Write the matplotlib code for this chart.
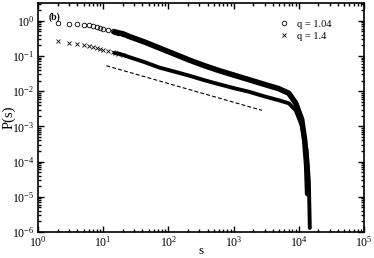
import matplotlib
matplotlib.use("Agg")
import matplotlib.pyplot as plt
from matplotlib.ticker import LogLocator, NullFormatter
import numpy as np

plt.rcParams['font.family'] = ['Liberation Serif', 'DejaVu Serif']

# DATA _______________________________________________________________________
s_q104 = [2, 3, 4, 5, 6, 7, 8, 9, 10, 12, 14, 15, 17, 20,
          25, 43, 73, 124, 209, 355, 601, 1018, 1725, 2923, 4950,
          7040, 9000, 11100, 12360, 13250, 13700]
p_q104 = [0.89, 0.82, 0.81, 0.78, 0.74, 0.70, 0.66, 0.62, 0.59, 0.54, 0.50, 0.485, 0.46, 0.43,
          0.361, 0.251, 0.169, 0.114, 0.0769, 0.0535, 0.0385, 0.0286, 0.0213, 0.0158, 0.0118,
          0.00877, 0.00454, 0.00158, 3.98e-4, 7.7e-5, 1.22e-5]

s_q14 = [2, 3, 4, 5, 6, 7, 8, 9, 10, 12, 14, 15, 17, 20,
         25, 43, 73, 124, 209, 355, 601, 1018, 1725, 2923, 4950,
         7040, 9000, 11100, 13250, 14300, 14800]
p_q14 = [0.27, 0.23, 0.22, 0.21, 0.195, 0.18, 0.17, 0.16, 0.152, 0.14, 0.13, 0.122, 0.118, 0.108,
         0.0936, 0.0674, 0.0469, 0.0361, 0.0277, 0.0206, 0.0158, 0.0122, 0.00968, 0.0072, 0.00553,
         0.00454, 0.00286, 0.00107, 2.06e-4, 2.86e-5, 1.3e-6]

guide_s = [11.2, 2723]
guide_p = [0.053, 0.00286]

labels = ["q = 1.04", "q = 1.4"]
# ____________________________________________________________________________

fig = plt.figure(figsize=(3.74, 2.58), dpi=100)
ax = fig.add_axes([0.1016, 0.101, 0.8714, 0.887])

s1, p1 = np.array(s_q104), np.array(p_q104)
s2, p2 = np.array(s_q14), np.array(p_q14)
cut = 15

# sparse markers at small s, dense band drawn as a thick line
ax.plot(s1[s1 <= 20], p1[s1 <= 20], 'o', mfc='none', mec='black', ms=3.3, mew=0.6,
        label=labels[0])
ax.plot(s1[s1 >= cut], p1[s1 >= cut], '-', color='black', lw=4.0, solid_capstyle='round')
ax.plot(s2[s2 <= 20], p2[s2 <= 20], 'x', color='black', ms=3.0, mew=0.6,
        label=labels[1])
ax.plot(s2[s2 >= cut], p2[s2 >= cut], '-', color='black', lw=2.8, solid_capstyle='round')

ax.plot(guide_s, guide_p, color='black', lw=0.8, dashes=(3.5, 2))

ax.set_xscale('log')
ax.set_yscale('log')
ax.set_xlim(1, 1e5)
ax.set_ylim(1e-6, 3.2)

ax.xaxis.set_major_locator(LogLocator(base=10, numticks=10))
ax.yaxis.set_major_locator(LogLocator(base=10, numticks=10))
ax.xaxis.set_minor_locator(LogLocator(base=10, subs=np.arange(2, 10), numticks=20))
ax.yaxis.set_minor_locator(LogLocator(base=10, subs=np.arange(2, 10), numticks=20))
ax.xaxis.set_minor_formatter(NullFormatter())
ax.yaxis.set_minor_formatter(NullFormatter())

ax.tick_params(which='both', direction='in', top=True, right=True, labelsize=8.5, width=1.0)
ax.tick_params(which='major', length=4.5, pad=2.5)
ax.tick_params(which='minor', length=2.5)
ax.tick_params(axis='x', which='major', pad=2)
for sp in ax.spines.values():
    sp.set_linewidth(1.2)

ax.set_xlabel('s', fontsize=9.5)
ax.set_ylabel('P(s)', fontsize=10.5)
ax.xaxis.set_label_coords(0.5, -0.085)
ax.xaxis.label.set_va('center')
ax.yaxis.set_label_coords(-0.089, 0.5)
ax.yaxis.label.set_va('center')

ax.text(0.032, 0.96, '(b)', transform=ax.transAxes, fontsize=7, fontweight='bold',
        va='top', ha='left')

ax.legend(loc='upper right', frameon=False, fontsize=7.5, handlelength=1.0,
          handletextpad=0.8, labelspacing=0.3, bbox_to_anchor=(0.93, 0.97))

fig.savefig('out.png', dpi=100)
